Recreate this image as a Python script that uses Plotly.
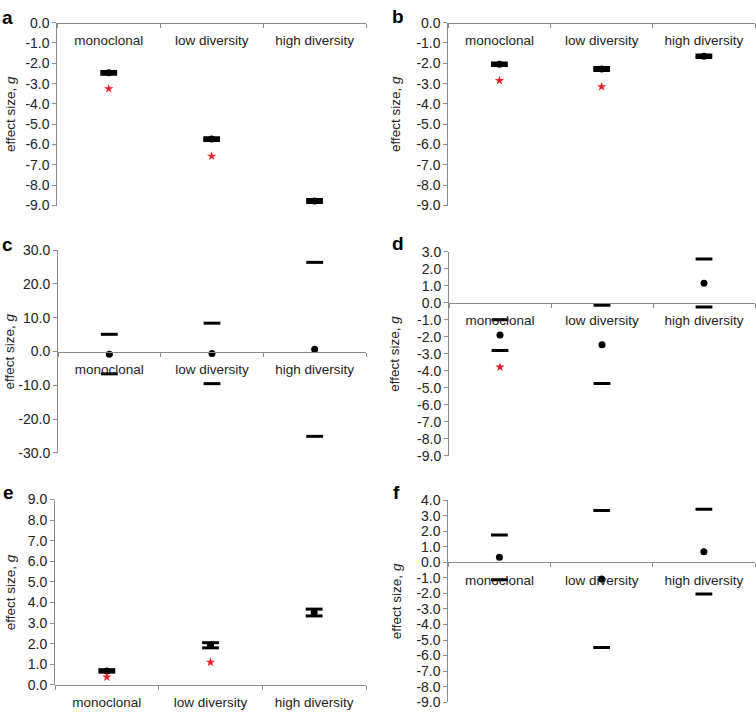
import plotly.graph_objects as go

W, H = 756, 720

categories = ["monoclonal", "low diversity", "high diversity"]
panel_letters = ["a", "b", "c", "d", "e", "f"]

# mean effect sizes and 95% CI bounds per panel
a_mean = [-2.47, -5.73, -8.78]
a_low = [-2.54, -5.80, -8.85]
a_up = [-2.40, -5.66, -8.71]
a_star = [-3.25, -6.57, None]

b_mean = [-2.05, -2.28, -1.65]
b_low = [-2.11, -2.35, -1.71]
b_up = [-1.99, -2.21, -1.59]
b_star = [-2.85, -3.15, None]

c_mean = [-0.8, -0.6, 0.7]
c_low = [-6.6, -9.5, -25.1]
c_up = [5.1, 8.4, 26.4]
c_star = [None, None, None]

d_mean = [-1.9, -2.47, 1.15]
d_low = [-2.8, -4.75, -0.25]
d_up = [-1.0, -0.15, 2.58]
d_star = [-3.78, None, None]

e_mean = [0.68, 1.93, 3.52]
e_low = [0.62, 1.80, 3.35]
e_up = [0.74, 2.05, 3.68]
e_star = [0.38, 1.10, None]

f_mean = [0.32, -1.07, 0.68]
f_low = [-1.12, -5.48, -2.04]
f_up = [1.76, 3.33, 3.41]
f_star = [None, None, None]

# y-axis ranges and tick steps
y_ranges = [(-9, 0), (-9, 0), (-30, 30), (-9, 3), (0, 9), (-9, 4)]
y_steps = [1, 1, 10, 1, 1, 1]

panels = [
    (a_mean, a_low, a_up, a_star),
    (b_mean, b_low, b_up, b_star),
    (c_mean, c_low, c_up, c_star),
    (d_mean, d_low, d_up, d_star),
    (e_mean, e_low, e_up, e_star),
    (f_mean, f_low, f_up, f_star),
]

# plot-area boxes in pixels: (left, right, top, bottom)
boxes = [
    (57.3, 366, 15, 202),
    (448.3, 755, 15, 202),
    (58, 366, 247.7, 455),
    (449, 755, 249.3, 458),
    (55, 366, 502.7, 692.3),
    (448.3, 755, 503.3, 710),
]
letter_pos = [(7, 10), (398, 9), (7, 242), (398, 241), (8, 496), (396, 495)]
title_x = [10, 395, 10, 395, 10, 396]

AX = "#8a8a8a"
TXT = "#222222"
RED = "#e8212b"
FS = 13.5
FS_TICK = 14

fig = go.Figure()
layout = dict(
    width=W, height=H, margin=dict(l=0, r=0, t=0, b=0),
    paper_bgcolor="white", plot_bgcolor="white", showlegend=False,
    font=dict(family="Liberation Sans, Arial, sans-serif", size=FS, color=TXT),
)
annotations = []

for i, ((mean, low, up, star), (ymin, ymax), step, box) in enumerate(
        zip(panels, y_ranges, y_steps, boxes)):
    n = i + 1
    xa = "x" if n == 1 else f"x{n}"
    ya = "y" if n == 1 else f"y{n}"
    l, r, t, b = box
    xd = [l / W, r / W]
    yd = [1 - b / H, 1 - t / H]
    pos = yd[0] + (0 - ymin) / (ymax - ymin) * (yd[1] - yd[0])

    # CI bounds as caps
    for bound in (low, up):
        fig.add_trace(go.Scatter(
            x=categories, y=bound, mode="markers", xaxis=xa, yaxis=ya,
            marker=dict(symbol="line-ew", size=12, color="black",
                        line=dict(width=3, color="black")),
            hoverinfo="y"))
    # mean
    fig.add_trace(go.Scatter(
        x=categories, y=mean, mode="markers", xaxis=xa, yaxis=ya,
        marker=dict(symbol="circle", size=7, color="black"), hoverinfo="y"))
    # significance stars
    sx = [c for c, s in zip(categories, star) if s is not None]
    sy = [s for s in star if s is not None]
    if sx:
        fig.add_trace(go.Scatter(
            x=sx, y=sy, mode="markers", xaxis=xa, yaxis=ya,
            marker=dict(symbol="star", size=7, color=RED), hoverinfo="y"))

    nt = int(round((ymax - ymin) / step))
    tv = [ymin + k * step for k in range(nt + 1)]
    tt = [f"{v:.1f}" for v in tv]

    layout["xaxis" if n == 1 else f"xaxis{n}"] = dict(
        domain=xd, type="category", categoryorder="array", categoryarray=categories,
        range=[-0.5, 2.5], tickson="boundaries", ticks="outside", ticklen=4,
        tickcolor=AX, showline=True, linecolor=AX, linewidth=1,
        anchor="free", position=pos, showgrid=False, zeroline=False,
        ticklabelstandoff=5,
        tickfont=dict(size=FS, color=TXT), fixedrange=True)
    layout["yaxis" if n == 1 else f"yaxis{n}"] = dict(
        domain=yd, range=[ymin, ymax], anchor=xa, showline=True, linecolor=AX,
        linewidth=1, ticks="outside", ticklen=4, tickcolor=AX,
        tickvals=tv, ticktext=tt, showgrid=False, zeroline=False,
        tickfont=dict(size=FS_TICK, color=TXT), fixedrange=True)

    lx, ly = letter_pos[i]
    annotations.append(dict(
        text=f"<b>{panel_letters[i]}</b>", x=lx / W, y=1 - ly / H,
        xref="paper", yref="paper", showarrow=False, xanchor="center",
        yanchor="middle", font=dict(size=19, color="black")))
    annotations.append(dict(
        text="effect size, <i>g</i>", x=title_x[i] / W, y=(yd[0] + yd[1]) / 2,
        xref="paper", yref="paper", showarrow=False, textangle=-90,
        xanchor="center", yanchor="middle", font=dict(size=FS, color=TXT)))

layout["annotations"] = annotations
fig.update_layout(**layout)
fig.write_html("out.html", post_script="document.body.style.margin='0';",
               config={"displayModeBar": False})
